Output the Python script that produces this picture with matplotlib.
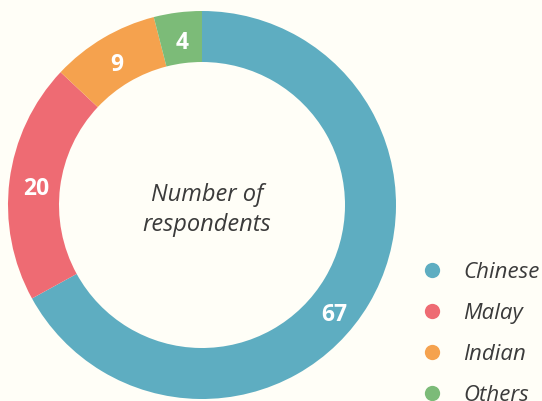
import numpy as np
import matplotlib
matplotlib.use("Agg")
import matplotlib.pyplot as plt
from matplotlib.lines import Line2D

plt.rcParams['font.family'] = ['Open Sans', 'DejaVu Sans']

# data
groups = ['Chinese', 'Malay', 'Indian', 'Others']
counts = [67, 20, 9, 4]
colors = ['#5eadc1', '#ee6b73', '#f5a24e', '#7cbb78']
center_text = 'Number of\nrespondents'

bg = '#fffef7'
text_col = '#3b3b3b'

fig = plt.figure(figsize=(5.42, 4.01), dpi=100, facecolor=bg)
ax = fig.add_axes([0, 0, 1, 1])
ax.set_facecolor(bg)

cx, cy = 202, 196
R = 194
ring = 51

wedges, _ = ax.pie(counts, colors=colors, startangle=90, counterclock=False,
                   center=(cx, cy), radius=R, frame=True,
                   wedgeprops=dict(width=ring, linewidth=0))
ax.set_xlim(0, 542)
ax.set_ylim(0, 401)
ax.set_aspect('equal')
ax.axis('off')

# value labels in the middle of the ring
shift = {0: -8}  # the big slice label sits a bit lower
for i, w in enumerate(wedges):
    ang = np.deg2rad((w.theta1 + w.theta2) / 2 + shift.get(i, 0))
    rr = R - ring / 2
    ax.text(cx + rr * np.cos(ang) + 1, cy + rr * np.sin(ang) - 5, str(counts[i]),
            ha='center', va='center', color='white', fontsize=16.5,
            fontweight='bold')

ax.text(cx + 5, cy - 5, center_text, ha='center', va='center',
        fontsize=17, style='italic', color=text_col, linespacing=1.38)

handles = [Line2D([], [], marker='o', linestyle='', markersize=11,
                  markerfacecolor=c, markeredgewidth=0) for c in colors]
leg = ax.legend(handles, groups, loc='upper left',
                bbox_to_anchor=(421 / 542, 1 - 262 / 401),
                frameon=False, prop=dict(size=16, style='italic'),
                labelspacing=0.9, handletextpad=0.9, handlelength=1.0,
                borderpad=0, borderaxespad=0)
for t in leg.get_texts():
    t.set_color(text_col)

fig.savefig('out.png', dpi=100, facecolor=bg)
